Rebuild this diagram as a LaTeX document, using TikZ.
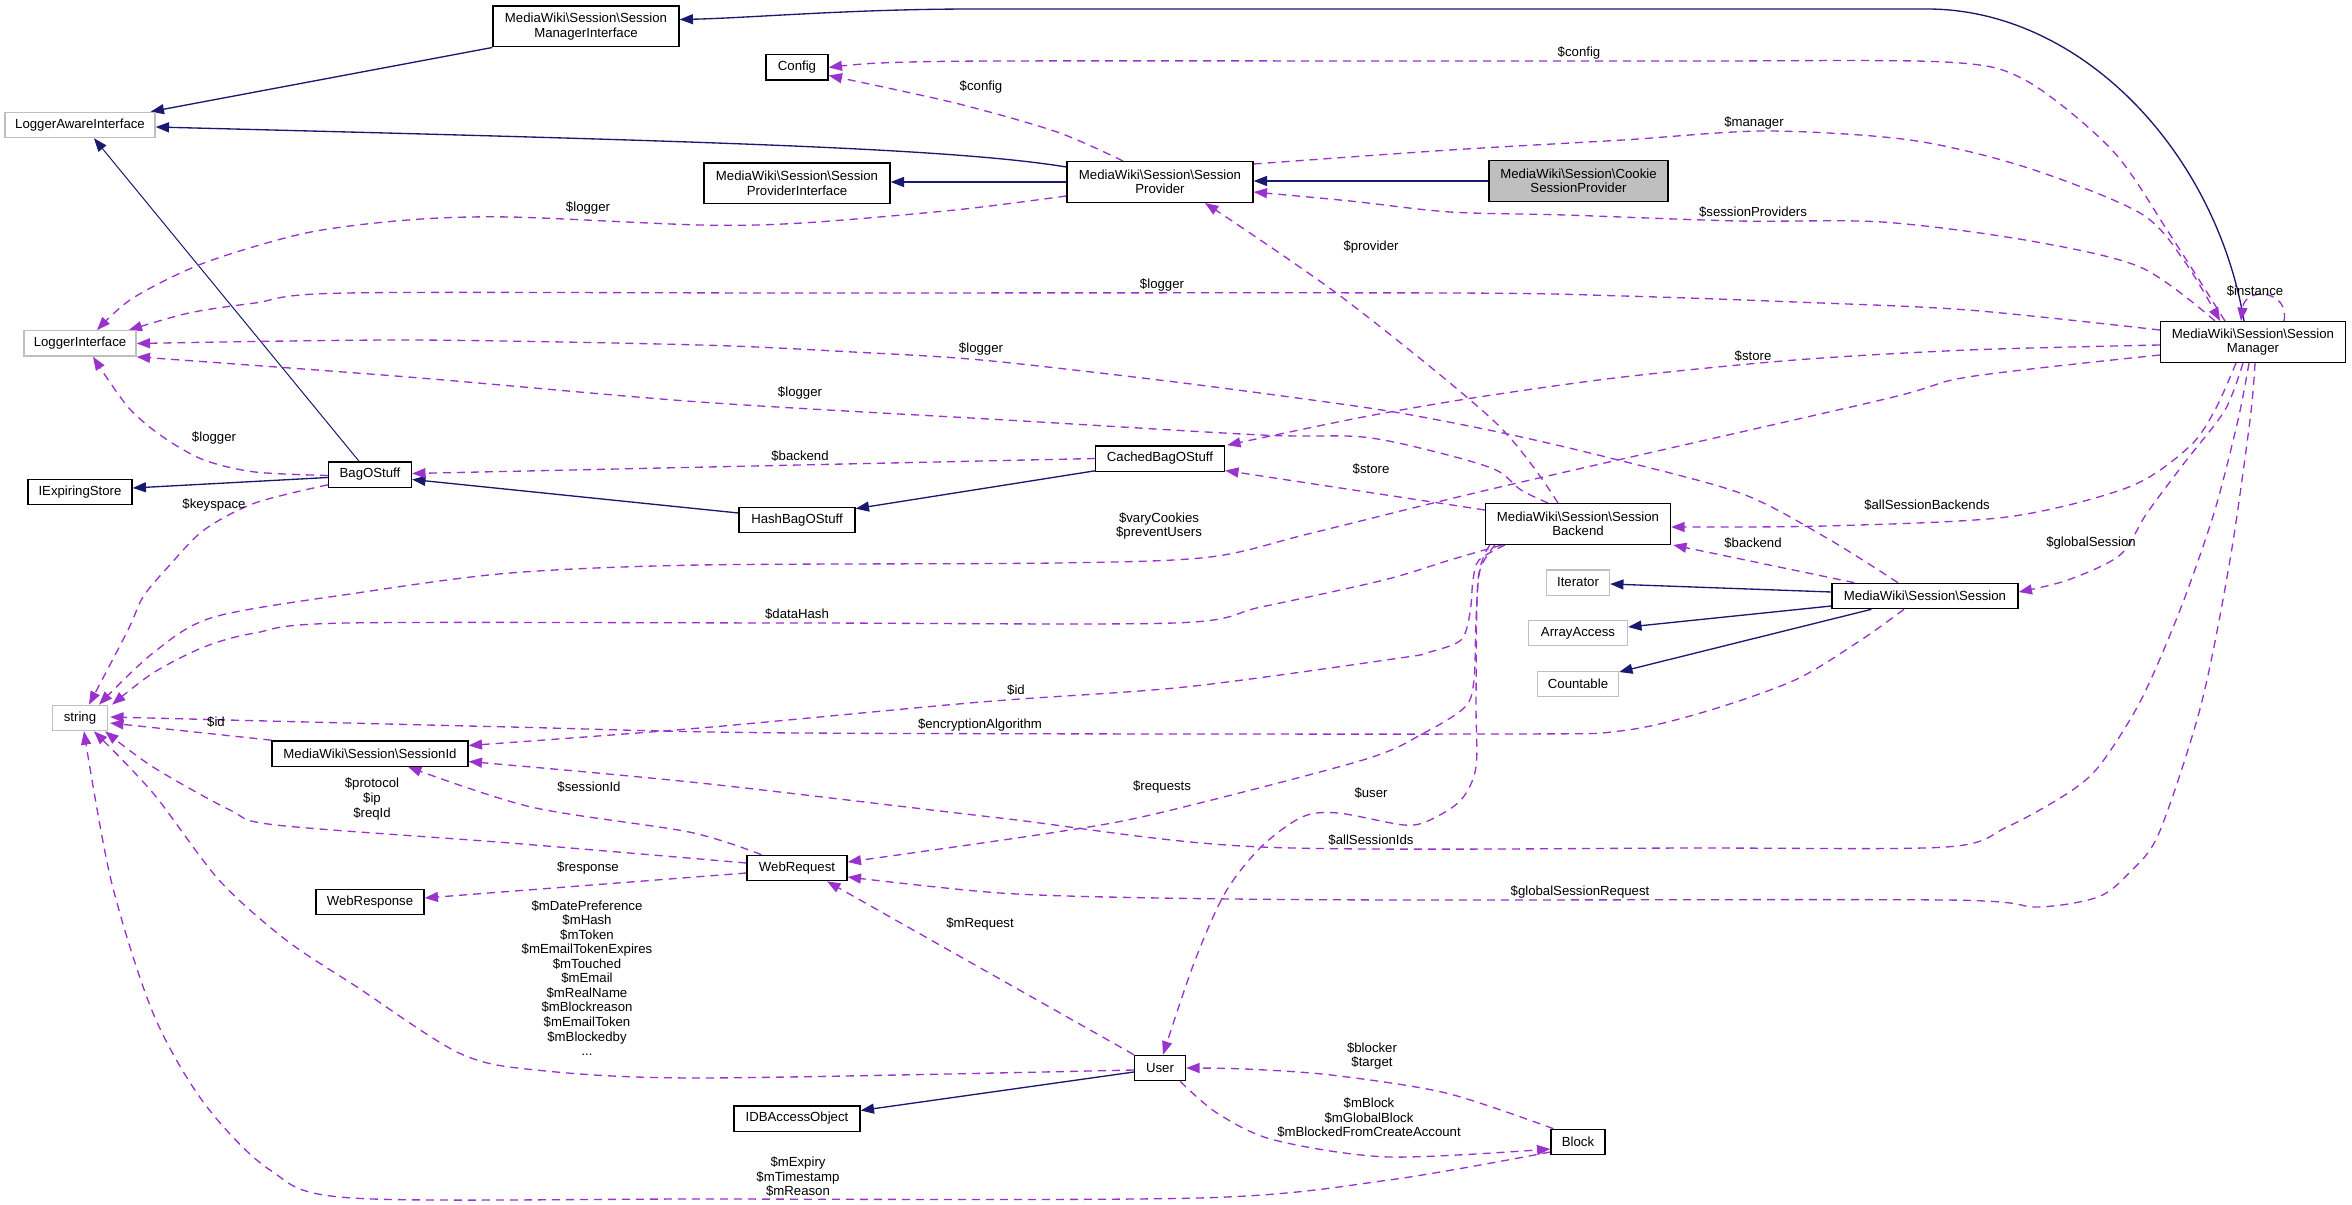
\documentclass[tikz,border=0pt]{standalone}
\usepackage{fontspec}
\setmainfont{Liberation Sans}
\usetikzlibrary{arrows.meta,calc,backgrounds}
\definecolor{navyc}{HTML}{191970}
\definecolor{orchid}{HTML}{9A32CD}
\definecolor{greyb}{HTML}{BFBFBF}
\newcommand\dgfont{\fontsize{9.9}{10.9}\selectfont}
\newcommand\bs{\textbackslash}
\begin{document}
\begin{tikzpicture}[x=0.75pt,y=-0.75pt,
  cls/.style={draw=black, line width=1pt, inner sep=0pt, align=center, font=\dgfont, fill=white},
  ext/.style={cls, draw=greyb},
  one/.style={minimum height=19pt},
  two/.style={minimum height=30.5pt},
  inh/.style={draw=navyc, line width=1pt, -{Triangle[length=10pt,width=7.5pt]}},
  use/.style={draw=orchid, line width=1pt, dash pattern=on 6pt off 4.5pt, -{Triangle[length=10pt,width=7.5pt]}},
  lbl/.style={inner sep=0pt, align=center, font=\dgfont}]
\useasboundingbox (0,0) rectangle (2352,1205);

% ---------------- nodes ----------------
\node[cls,two,minimum width=139.5pt] (smi) at (586,26.5) {MediaWiki\bs Session\bs Session\\ManagerInterface};
\node[ext,one,minimum width=112.5pt] (lai) at (80,125) {LoggerAwareInterface};
\node[cls,one,minimum width=46.5pt] (config) at (797,67.5) {Config};
\node[cls,two,minimum width=139.5pt] (spi) at (797,183.5) {MediaWiki\bs Session\bs Session\\ProviderInterface};
\node[cls,two,minimum width=139.5pt] (sp) at (1160,182) {MediaWiki\bs Session\bs Session\\Provider};
\node[cls,two,minimum width=134.25pt,fill=greyb] (cookie) at (1578.5,181) {MediaWiki\bs Session\bs Cookie\\SessionProvider};
\node[cls,two,minimum width=138.75pt] (sm) at (2253,342) {MediaWiki\bs Session\bs Session\\Manager};
\node[ext,one,minimum width=84pt] (li) at (80,343.5) {LoggerInterface};
\node[cls,one,minimum width=62.25pt] (bag) at (370,474.5) {BagOStuff};
\node[cls,one,minimum width=78pt] (ies) at (80,492) {IExpiringStore};
\node[cls,one,minimum width=87pt] (hash) at (797,520) {HashBagOStuff};
\node[cls,one,minimum width=96.75pt] (cached) at (1160,458.5) {CachedBagOStuff};
\node[cls,two,minimum width=138.75pt] (sb) at (1578,524) {MediaWiki\bs Session\bs Session\\Backend};
\node[ext,one,minimum width=47.25pt] (iter) at (1578,582.5) {Iterator};
\node[ext,one,minimum width=74.25pt] (aa) at (1578,633) {ArrayAccess};
\node[ext,one,minimum width=60.75pt] (cnt) at (1578,684) {Countable};
\node[cls,one,minimum width=139.5pt] (sess) at (1925,596) {MediaWiki\bs Session\bs Session};
\node[ext,one,minimum width=41.25pt] (str) at (80,718) {string};
\node[cls,one,minimum width=147pt] (sid) at (370,753.5) {MediaWiki\bs Session\bs SessionId};
\node[cls,one,minimum width=75pt] (wreq) at (797,868) {WebRequest};
\node[cls,one,minimum width=81pt] (wresp) at (370,902) {WebResponse};
\node[cls,one,minimum width=38.25pt] (user) at (1160,1068) {User};
\node[cls,one,minimum width=94.5pt] (idb) at (797,1118.5) {IDBAccessObject};
\node[cls,one,minimum width=40.5pt] (block) at (1578,1142) {Block};

% ---------------- edge labels ----------------
\node[lbl] (l1) at (1579,53) {\$config};
\node[lbl] (l2) at (981,87) {\$config};
\node[lbl] (l3) at (1754,123) {\$manager};
\node[lbl] (l4) at (1753,212) {\$sessionProviders};
\node[lbl] (l5) at (2255,291) {\$instance};
\node[lbl] (l6) at (588,208) {\$logger};
\node[lbl] (l7) at (1162,285) {\$logger};
\node[lbl] (l8) at (981,349) {\$logger};
\node[lbl] (l9) at (800,393) {\$logger};
\node[lbl] (l10) at (214,438) {\$logger};
\node[lbl] (l11) at (1371,247) {\$provider};
\node[lbl] (l12) at (1753,356) {\$store};
\node[lbl] (l13) at (1371,469) {\$store};
\node[lbl] (l14) at (800,456) {\$backend};
\node[lbl] (l15) at (214,505) {\$keyspace};
\node[lbl] (l16) at (1159,526) {\$varyCookies\\\$preventUsers};
\node[lbl] (l17) at (1927,505) {\$allSessionBackends};
\node[lbl] (l18) at (1753,543) {\$backend};
\node[lbl] (l19) at (2091,543) {\$globalSession};
\node[lbl] (l20) at (797,614) {\$dataHash};
\node[lbl] (l21) at (1016,690) {\$id};
\node[lbl] (l22) at (216,722) {\$id};
\node[lbl] (l23) at (980,725) {\$encryptionAlgorithm};
\node[lbl] (l24) at (372,799) {\$protocol\\\$ip\\\$reqId};
\node[lbl] (l25) at (589,787) {\$sessionId};
\node[lbl] (l26) at (1162,787) {\$requests};
\node[lbl] (l27) at (1371,793) {\$user};
\node[lbl] (l28) at (1371,840) {\$allSessionIds};
\node[lbl] (l29) at (588,868) {\$response};
\node[lbl] (l30) at (1580,892) {\$globalSessionRequest};
\node[lbl] (l31) at (980,924) {\$mRequest};
\node[lbl] (l32) at (587,978) {\$mDatePreference\\\$mHash\\\$mToken\\\$mEmailTokenExpires\\\$mTouched\\\$mEmail\\\$mRealName\\\$mBlockreason\\\$mEmailToken\\\$mBlockedby\\...};
\node[lbl] (l33) at (1372,1056) {\$blocker\\\$target};
\node[lbl] (l34) at (1369,1118) {\$mBlock\\\$mGlobalBlock\\\$mBlockedFromCreateAccount};
\node[lbl] (l35) at (798,1177) {\$mExpiry\\\$mTimestamp\\\$mReason};

\begin{scope}[on background layer]
% ---------------- inheritance ----------------
\draw[inh] ($(sm.north)+(-9,0)$) .. controls (2215,150) and (2080,9) .. (1927,9) -- (975,9) .. controls (850,9) and (750,18) .. ($(smi.east)+(0,-7)$);
\draw[inh] (smi.south west) -- ($(lai.north east)+(-5,0)$);
\draw[inh] ($(sp.west)+(0,-15)$) .. controls (950,148) and (700,141) .. ($(lai.east)+(0,2)$);
\draw[inh] (sp.west) -- (sp.west -| spi.east);
\draw[inh] (cookie.west) -- (cookie.west -| sp.east);
\draw[inh,line width=0.75pt] ($(bag.north)+(-11,0)$) -- ($(lai.south)+(14,0)$);
\draw[inh] ($(bag.west)+(0,3)$) -- ($(ies.east)+(0,-4)$);
\draw[inh] ($(hash.west)+(0,-7)$) -- ($(bag.east)+(0,5)$);
\draw[inh] ($(cached.south west)+(0,-1)$) -- ($(hash.north east)+(0,2)$);
\draw[inh] ($(sess.west)+(0,-4)$) -- ($(iter.east)+(0,1.5)$);
\draw[inh] ($(sess.west)+(0,10)$) -- ($(aa.east)+(0,-6)$);
\draw[inh] ($(sess.south west)+(40,0)$) -- ($(cnt.east)+(0,-12)$);
\draw[inh] ($(user.west)+(0,4)$) -- ($(idb.east)+(0,-8)$);

% ---------------- usage ----------------
% $config (manager -> config)
\draw[use] plot[smooth] coordinates {($(sm.north)+(-28,0)$) (2169,233) (2112,150) (2025,80) (1945,62) (1700,61) (1450,61) (1000,61) (880,63) (config.east)};
% $config (provider -> config)
\draw[use] plot[smooth] coordinates {($(sp.north)+(-37,0)$) (1057,132) (955,103) ($(config.east)+(0,8)$)};
% $manager
\draw[use] plot[smooth] coordinates {($(sp.north east)+(0,3)$) (1450,150) (1623,140) (1766,131) (1910,140) (2025,167) (2140,213) (2185,262) ($(sm.north)+(-33,0)$)};
% $sessionProviders
\draw[use] plot[smooth] coordinates {($(sm.north)+(-38,0)$) (2140,267) (2025,240) (1882,222) (1738,221) (1565,215) (1450,212) (1350,201) ($(sp.east)+(0,10)$)};
% $instance
\draw[use] ($(sm.north)+(31,0)$) .. controls (2290,290) and (2245,286) .. ($(sm.north)+(-12,0)$);
% $logger (provider)
\draw[use] plot[smooth] coordinates {($(sp.west)+(0,14)$) (955,210) (802,223) (700,225) (510,217) (408,220) (306,233) (204,263) (133,298) ($(li.north)+(17,0)$)};
% $logger (manager)
\draw[use] plot[smooth] coordinates {($(sm.west)+(0,-12)$) (1968,310) (1795,302) (1623,296) (1450,293) (800,293) (347,293) (255,303) (189,313) ($(li.north east)+(-8,0)$)};
% $logger (session)
\draw[use] plot[smooth] coordinates {($(sess.north)+(-27,0)$) (1825,537) (1740,493) (1606,457) (1503,433) (1400,413) (1312,400) (1159,380) (981,360) (853,352) (700,345) (408,340) (li.east)};
% $logger (backend)
\draw[use] plot[smooth] coordinates {($(sb.north)+(-30,0)$) (1521,490) (1496,470) (1440,453) (1363,437) (1261,435) (1006,420) (700,402) (408,377) (li.south east)};
% $logger (bagostuff)
\draw[use] plot[smooth] coordinates {($(bag.west)+(0,1)$) (255,472) (204,460) (163,437) (128,407) ($(li.south)+(13,0)$)};
% $provider
\draw[use] plot[smooth] coordinates {($(sb.north)+(-20,0)$) (1496,423) (1343,298) ($(sp.south)+(45,0)$)};
% $store (manager)
\draw[use] plot[smooth] coordinates {($(sm.west)+(0,3)$) (1968,350) (1795,360) (1623,377) (1479,397) (1363,417) ($(cached.north east)+(2,0)$)};
% $store (backend)
\draw[use] ($(sb.west)+(0,-14)$) -- ($(cached.east)+(0,12)$);
% $backend (cached)
\draw[use] (cached.west) -- ($(bag.east)+(0,-1)$);
% $keyspace
\draw[use] plot[smooth] coordinates {($(bag.south west)+(0,-3)$) (255,503) (204,530) (168,567) (143,597) (128,630) ($(str.north)+(9,0)$)};
% $varyCookies
\draw[use] plot[smooth] coordinates {($(sm.west)+(0,13)$) (1968,377) (1881,400) (1500,487) (1312,533) (1210,557) (1057,563) (700,565) (510,573) (357,593) (214,617) (153,653) ($(str.north)+(19,0)$)};
% $dataHash
\draw[use] plot[smooth] coordinates {($(sb.south west)+(17,0)$) (1450,560) (1384,580) (1261,607) (1174,623) (800,623) (347,623) (255,633) (204,647) (153,673) ($(str.north east)+(4,0)$)};
% $id (backend -> sessionid)
\draw[use] plot[smooth] coordinates {($(sb.south west)+(20,0)$) (1479,560) (1473,580) (1470,613) (1461,640) (1430,652) (1400,658) (1185,687) (981,702) (700,728) ($(sid.east)+(0,-8)$)};
% $requests
\draw[use] plot[smooth] coordinates {($(sb.south west)+(10,0)$) (1480,570) (1476,620) (1474,680) (1465,707) (1424,733) (1363,760) (1159,813) (1057,832) ($(wreq.east)+(0,-6)$)};
% $user
\draw[use] plot[smooth] coordinates {($(sb.south west)+(5,0)$) (1478,580) (1476,700) (1476,767) (1461,800) (1430,820) (1404,825) (1338,813) (1302,817) (1261,847) (1225,893) (1194,963) ($(user.north)+(3,0)$)};
% $encryptionAlgorithm
\draw[use] plot[smooth] coordinates {($(sess.south)+(-21,0)$) (1861,640) (1795,680) (1704,712) (1620,731) (1500,734) (800,733) (510,727) ($(str.east)+(2,-1)$)};
% $id (sessionid -> string)
\draw[use] (sid.north west) -- ($(str.east)+(2,5)$);
% $protocol $ip $reqId
\draw[use] plot[smooth] coordinates {($(wreq.west)+(0,-5)$) (510,843) (276,825) (230,810) (153,767) ($(str.south east)+(-3,0)$)};
% $sessionId
\draw[use] plot[smooth] coordinates {($(wreq.north west)+(15,0)$) (689,832) (531,807) ($(sid.south)+(38,0)$)};
% $response
\draw[use] ($(wreq.west)+(0,5)$) -- ($(wresp.east)+(0,-4)$);
% $mRequest
\draw[use] (user.north west) -- ($(wreq.south)+(30,0)$);
% $globalSessionRequest
\draw[use] plot[smooth] coordinates {($(sm.south)+(2,0)$) (2250,420) (2230,560) (2201,705) (2159,833) (2129,873) (2098,897) (2037,907) (1946,900) (1400,900) (1159,898) (1000,893) ($(wreq.east)+(0,9)$)};
% $allSessionIds
\draw[use] plot[smooth] coordinates {($(sm.south)+(-4,0)$) (2238,420) (2214,513) (2180,610) (2141,700) (2100,765) (2068,793) (2007,827) (1946,847) (1700,848) (1261,847) (1000,818) (700,783) ($(sid.east)+(0,8)$)};
% $allSessionBackends
\draw[use] plot[smooth] coordinates {($(sm.south)+(-17,0)$) (2215,410) (2189,447) (2129,487) (2007,517) (1825,526) ($(sb.east)+(0,3)$)};
% $globalSession
\draw[use] plot[smooth] coordinates {($(sm.south)+(-10,0)$) (2225,410) (2185,462) (2147,513) (2120,555) (2068,580) ($(sess.east)+(0,-4)$)};
% $backend (session -> backend)
\draw[use] ($(sess.north west)+(23,0)$) -- ($(sb.south east)+(2,0)$);
% $mBlock ...
\draw[use] plot[smooth] coordinates {($(user.south east)+(-6,0)$) (1217,1113) (1274,1140) (1389,1157) ($(block.west)+(0,7)$)};
% $blocker $target
\draw[use] plot[smooth] coordinates {($(block.north west)+(3,0)$) (1446,1093) (1331,1075) (1245,1069) (user.east)};
% $mExpiry ...
\draw[use] plot[smooth] coordinates {($(block.west)+(0,10)$) (1389,1180) (1199,1198) (700,1199) (352,1198) (270,1170) (204,1103) (153,1013) (111,880) ($(str.south)+(4,0)$)};
% $mDatePreference ...
\draw[use] plot[smooth] coordinates {($(user.west)+(0,2)$) (700,1078) (536,1070) (459,1053) (357,987) (286,940) (219,880) (153,793) ($(str.south)+(14,0)$)};
\end{scope}
\end{tikzpicture}
\end{document}
